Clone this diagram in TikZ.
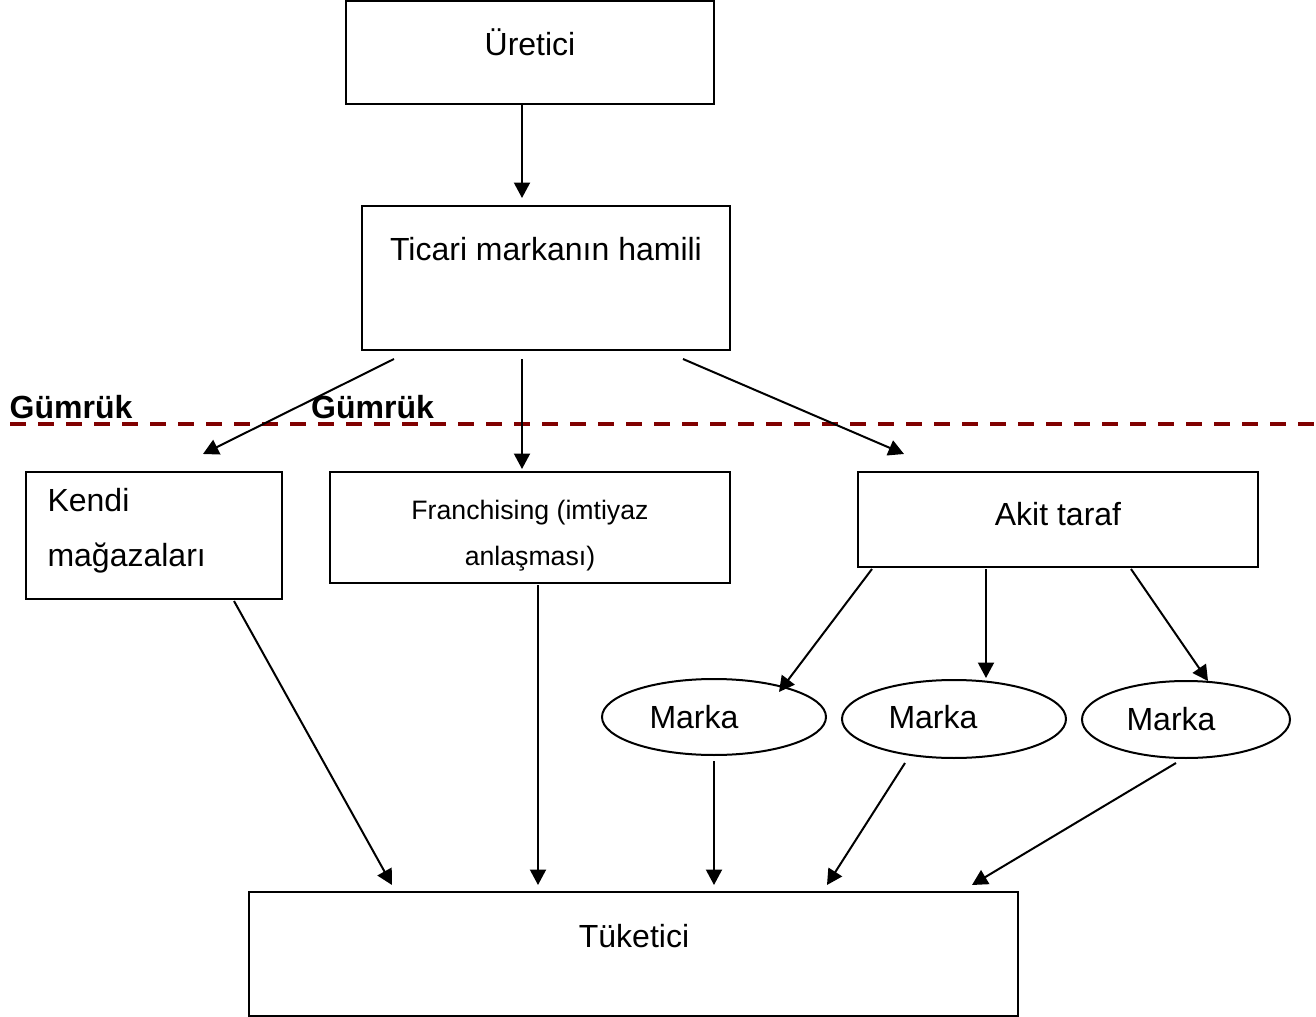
\documentclass[tikz,border=0pt]{standalone}
\usepackage{fontspec}
\setmainfont{Liberation Sans}
\usetikzlibrary{arrows.meta,shapes.geometric}
\definecolor{customs}{HTML}{800000}
\newcommand{\pxunit}{0.375pt}

\begin{document}
\begin{tikzpicture}[x=\pxunit, y=-\pxunit,
    box/.style={draw, line width=0.75pt, inner sep=0pt},
    brand/.style={draw, ellipse, line width=0.75pt, inner sep=0pt},
    lbl/.style={font=\fontsize{12}{14}\selectfont, text height=8.6pt, text depth=0pt, inner sep=0pt},
    customslbl/.style={lbl, font=\fontsize{12}{14}\selectfont\bfseries},
    arr/.style={line width=0.75pt, -{Triangle[length=5.8pt,width=6pt]}},
    border/.style={customs, line width=1.5pt, dash pattern=on 6pt off 4.5pt}]
  \useasboundingbox (0,0) rectangle (1316,1017);

  % Top of the chain
  \node[box, minimum width=368*\pxunit, minimum height=103*\pxunit] (producer) at (530,52.5) {};
  \node[lbl] (producer-t) at (530,44) {Üretici};

  \node[box, minimum width=368*\pxunit, minimum height=144*\pxunit] (holder) at (546,278) {};
  \node[lbl] (holder-t) at (546,249) {Ticari markanın hamili};

  % Customs border
  \draw[border] (10,424) -- (1316,424);
  \node[customslbl] (customs-a) at (71,407) {Gümrük};
  \node[customslbl] (customs-b) at (372.5,407) {Gümrük};

  % Sales channels
  \node[box, minimum width=256*\pxunit, minimum height=127*\pxunit] (own) at (154,535.5) {};
  \node[anchor=west, align=left, inner sep=0pt, font=\fontsize{12}{20.6}\selectfont] (own-t) at (47,531) {Kendi\\mağazaları};

  \node[box, minimum width=400*\pxunit, minimum height=111*\pxunit] (franchise) at (530,527.5) {};
  \node[align=center, inner sep=0pt, font=\fontsize{10}{17.25}\selectfont] (franchise-t) at (530,536) {Franchising (imtiyaz\\anlaşması)};

  \node[box, minimum width=400*\pxunit, minimum height=95*\pxunit] (party) at (1058,519.5) {};
  \node[lbl] (party-t) at (1058,514) {Akit taraf};

  % Brands under the contracting party
  \node[brand, minimum width=224*\pxunit, minimum height=76*\pxunit] (brand1) at (714,717) {};
  \node[lbl] (brand1-t) at (694,717) {Marka};
  \node[brand, minimum width=224*\pxunit, minimum height=78*\pxunit] (brand2) at (954,719) {};
  \node[lbl] (brand2-t) at (933,717) {Marka};
  \node[brand, minimum width=208*\pxunit, minimum height=77*\pxunit] (brand3) at (1186,719.5) {};
  \node[lbl] (brand3-t) at (1171,719) {Marka};

  % Consumer
  \node[box, minimum width=769*\pxunit, minimum height=124*\pxunit] (consumer) at (633.5,954) {};
  \node[lbl] (consumer-t) at (634,936) {Tüketici};

  % Arrows
  \draw[arr] ([shift={(-8,0)}]producer.south) -- ([shift={(-24,-7)}]holder.north);
  \draw[arr] ([shift={(33,8)}]holder.south west) -- ([shift={(49,-17)}]own.north);
  \draw[arr] ([shift={(-24,8)}]holder.south) -- ([shift={(-8,-2)}]franchise.north);
  \draw[arr] ([shift={(-48,8)}]holder.south east) -- ([shift={(47,-17)}]party.north west);

  \draw[arr] ([shift={(15,1)}]party.south west) -- ([shift={(65,-25)}]brand1.center);
  \draw[arr] ([shift={(-72,1)}]party.south) -- ([shift={(32,-41)}]brand2.center);
  \draw[arr] ([shift={(-128,1)}]party.south east) -- ([shift={(22,-38.5)}]brand3.center);

  \draw[arr] ([shift={(80,1)}]own.south) -- ([shift={(-241.5,-6)}]consumer.north);
  \draw[arr] ([shift={(8,1)}]franchise.south) -- ([shift={(-95.5,-6)}]consumer.north);
  \draw[arr] ([shift={(0,5)}]brand1.south) -- ([shift={(80.5,-6)}]consumer.north);
  \draw[arr] ([shift={(-49,4)}]brand2.south) -- ([shift={(193.5,-6)}]consumer.north);
  \draw[arr] ([shift={(-10,4)}]brand3.south) -- ([shift={(338.5,-6)}]consumer.north);
\end{tikzpicture}
\end{document}
